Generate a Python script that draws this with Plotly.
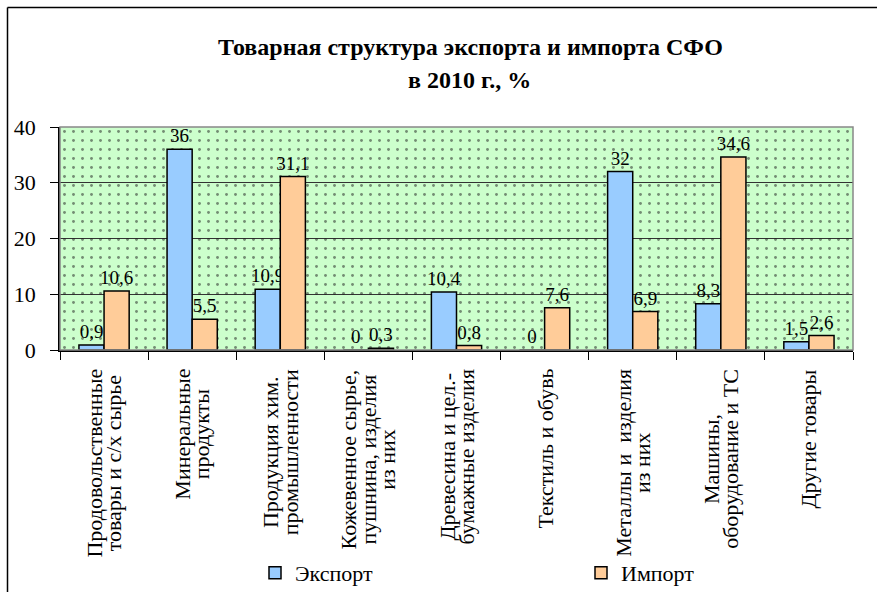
import plotly.graph_objects as go

categories = [
    "Продовольственные\nтовары и с/х сырье",
    "Минеральные\nпродукты",
    "Продукция хим.\nпромышленности",
    "Кожевенное сырье,\nпушнина, изделия\nиз них",
    "Древесина и цел.-\nбумажные изделия",
    "Текстиль и обувь",
    "Металлы и  изделия\nиз них",
    "Машины,\nоборудование и ТС",
    "Другие товары",
]
export_vals = [0.9, 36, 10.9, 0, 10.4, 0, 32, 8.3, 1.5]
import_vals = [10.6, 5.5, 31.1, 0.3, 0.8, 7.6, 6.9, 34.6, 2.6]
y_ticks = [0, 10, 20, 30, 40]

FONT = "Liberation Serif, Times New Roman, serif"
W, H = 877, 592
L, R, T, B = 60, 877 - 853, 127, 592 - 350
PW, PH = W - L - R, H - T - B


def px_x(x):
    return (x - L) / PW


def px_y(y):
    return (H - B - y) / PH


def fmt(v):
    return ("%g" % v).replace(".", ",")


fig = go.Figure()

# dotted green background of the plot area
fig.add_trace(go.Scatter(
    x=[0, 1, 1, 0, 0], y=[0, 0, 40, 40, 0], xaxis="x", yaxis="y",
    mode="lines", line=dict(width=0), fill="toself",
    fillcolor="rgba(0,0,0,0)",
    fillpattern=dict(shape=".", fgcolor="#1a1a1a", bgcolor="rgba(0,0,0,0)",
                     size=9, solidity=0.08),
    hoverinfo="skip", showlegend=False,
))

fig.add_trace(go.Bar(
    name="Экспорт", x=categories, y=export_vals, xaxis="x2", yaxis="y",
    marker=dict(color="#99CCFF", line=dict(color="black", width=1.5)),
    text=[fmt(v) for v in export_vals], textposition="outside",
    constraintext="none",
    textfont=dict(family=FONT, size=19, color="black"), cliponaxis=False,
    legend="legend",
))
fig.add_trace(go.Bar(
    name="Импорт", x=categories, y=import_vals, xaxis="x2", yaxis="y",
    marker=dict(color="#FFCC99", line=dict(color="black", width=1.5)),
    text=[fmt(v) for v in import_vals], textposition="outside",
    constraintext="none",
    textfont=dict(family=FONT, size=19, color="black"), cliponaxis=False,
    legend="legend2",
))

leg = dict(orientation="h", xanchor="left", yanchor="middle",
           xref="container", yref="container",
           font=dict(family=FONT, size=22, color="black"),
           bgcolor="rgba(0,0,0,0)")

# category labels: rotated, centred lines, tight line spacing
label_annotations = []
for c in categories:
    lines = c.split("\n")
    txt = "<br>".join('<span style="font-size:22px">%s</span>' % ln for ln in lines)
    label_annotations.append(dict(
        text=txt, xref="x2", yref="paper", x=c, y=px_y(367),
        xanchor="center", yanchor="top", textangle=-90, align="center",
        showarrow=False, font=dict(family=FONT, size=15, color="black"),
    ))

fig.update_layout(
    width=W, height=H,
    margin=dict(l=L, r=R, t=T, b=B),
    paper_bgcolor="white",
    plot_bgcolor="#CCFFCC",
    font=dict(family=FONT, color="black"),
    barmode="group", bargap=0.43, bargroupgap=0,
    xaxis=dict(range=[0, 1], visible=False, fixedrange=True),
    xaxis2=dict(
        overlaying="x", anchor="y", side="bottom", type="category",
        showticklabels=False, automargin=False,
        ticks="outside", tickson="boundaries", ticklen=8, tickcolor="black",
        showline=True, linecolor="black", linewidth=1.5, showgrid=False,
    ),
    yaxis=dict(
        range=[0, 40], tickvals=y_ticks, ticks="outside", ticklen=8,
        ticklabelstandoff=10, automargin=False,
        tickcolor="black", tickfont=dict(family=FONT, size=22, color="black"),
        showline=True, linecolor="black", linewidth=1.5,
        showgrid=True, gridcolor="#333333", gridwidth=1, zeroline=False,
    ),
    legend=dict(leg, x=255 / W, y=(H - 573) / H),
    legend2=dict(leg, x=581 / W, y=(H - 573) / H),
    shapes=[
        dict(type="rect", xref="paper", yref="paper", x0=0, x1=1, y0=0, y1=1,
             line=dict(color="#888888", width=1.5), layer="above"),
        dict(type="line", xref="paper", yref="paper",
             x0=px_x(7.5), x1=px_x(7.5), y0=px_y(7.5), y1=px_y(800),
             line=dict(color="black", width=1.5)),
        dict(type="line", xref="paper", yref="paper",
             x0=px_x(7.5), x1=px_x(1200), y0=px_y(7.5), y1=px_y(7.5),
             line=dict(color="black", width=1.5)),
    ],
    annotations=[
        dict(text="<b>Товарная структура экспорта и импорта СФО</b>",
             xref="paper", yref="paper", x=px_x(470), y=px_y(47),
             xanchor="center", yanchor="middle",
             showarrow=False, font=dict(family=FONT, size=24, color="black")),
        dict(text="<b>в 2010 г., %</b>",
             xref="paper", yref="paper", x=px_x(469), y=px_y(80),
             xanchor="center", yanchor="middle",
             showarrow=False, font=dict(family=FONT, size=24, color="black")),
    ] + label_annotations,
)

fig.write_html(
    "out.html", config={"displayModeBar": False},
    post_script=("document.body.style.margin='0';"
                 "document.body.style.overflow='hidden';"
                 "document.documentElement.style.overflow='hidden';"),
)
